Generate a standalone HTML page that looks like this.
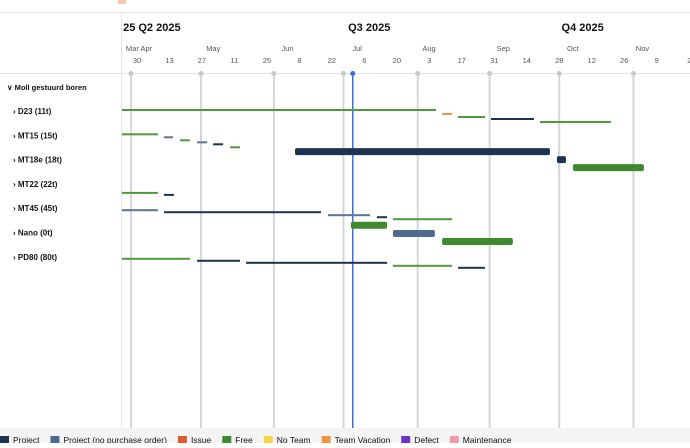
<!DOCTYPE html>
<html><head><meta charset="utf-8"><style>
body{margin:0;width:690px;height:443px;overflow:hidden;background:#fff;font-family:"Liberation Sans",sans-serif}
svg text{font-family:"Liberation Sans",sans-serif}
</style></head><body>
<svg id="c" width="690" height="443">
<rect x="118" y="0" width="8" height="4" fill="#f6c9a8"/>
<line x1="0" y1="12.5" x2="690" y2="12.5" stroke="#e3e3e3"/>
<line x1="0" y1="73.5" x2="690" y2="73.5" stroke="#e3e3e3"/>
<line x1="121.5" y1="12" x2="121.5" y2="428" stroke="#e6e6e6"/>
<g id="grid"></g><g id="hdr"></g><g id="rows"></g><g id="bars"></g>
<rect x="0" y="428" width="690" height="15" fill="#f4f4f4"/>
<g id="legend"></g>
</svg>
<script>
const tickLabels=["30","13","27","11","25","8","22","6","20","3","17","31","14","28","12","26","9","2"];
const monthLabels=["Mar Apr","May","Jun","Jul","Aug","Sep","Oct","Nov"];
const monthDays=[-3,29,61,91,122,154,184,214];
const quarterLabels=["25 Q2 2025","Q3 2025","Q4 2025"];
const quarterDays=[-6,91,183];
const gridDays=[-2.6,27.6,59,89,121,152,182,214];
const todayDay=93;
const rowNames=["D23 (11t)","MT15 (15t)","MT18e (18t)","MT22 (22t)","MT45 (45t)","Nano (0t)","PD80 (80t)"];
const barStart=[-6.5,131.5,138.4,152.6,173.7, -6.5,11.6,18.5,25.9,32.8,40.1, 68.1,181,187.9, -6.5,11.6, -6.5,11.6,82.3,103.4,110.3,92.2, 110.3,131.5, -6.5,25.9,47,110.3,138.4];
const barEnd=[128.9,135.8,150,171.1,204.3, 9,15.5,22.8,30.2,37.1,44.4, 178,184.9,218.5, 9,15.9, 9,79.3,100.4,107.8,135.8,107.8, 128.4,162, 22.8,44.4,107.8,135.8,150];
const barRow=[0,0,0,0,0, 1,1,1,1,1,1, 2,2,2, 3,3, 4,4,4,4,4,4, 5,5, 6,6,6,6,6];
const barLane=[0,4,7,9,12, 0,3,6,8,10,13, -7,1,9, 10,12, 3,5,8,10,12,18, 2,10, 3,5,7,10,12];
const barType=["free","vac","free","proj","free", "free","npo","free","npo","proj","free", "projT","projT","freeT", "free","proj", "npo","proj","npo","proj","free","freeT", "npoT","freeT", "free","proj","proj","free","proj"];
const legendNames=["Project","Project (no purchase order)","Issue","Free","No Team","Team Vacation","Defect","Maintenance"];
const legendColors=["#1c3352","#4f6b8c","#e05a2b","#3f8a2e","#f5d547","#f0953f","#6b35c9","#f09aa8"];

const x=d=>137+d*2.32;
const NS="http://www.w3.org/2000/svg";
function mk(p,t,a){const e=document.createElementNS(NS,t);for(const k in a)e.setAttribute(k,a[k]);document.getElementById(p).appendChild(e);return e;}
gridDays.forEach(d=>{
  const l=mk("grid","line",{x1:x(d),x2:x(d),y1:73,y2:428,stroke:"#d6d6d6","stroke-width":2});
  
  
  const c=mk("grid","circle",{cx:x(d),cy:73.5,r:2.5,fill:"#c8c8c8"});
  
  
});
const tl=mk("grid","line",{x1:x(todayDay),x2:x(todayDay),y1:73,y2:428,stroke:"#3b6fe0","stroke-width":1.5});


const tc=mk("grid","circle",{cx:x(todayDay),cy:73.5,r:2.5,fill:"#3b6fe0"});


quarterLabels.forEach((q,i)=>{
  const t=mk("hdr","text",{x:Math.max(121,x(quarterDays[i])),y:31,"font-size":11,"font-weight":"bold",fill:"#111"});
  t.textContent=q;
  
  
});
monthLabels.forEach((m,i)=>{
  const t=mk("hdr","text",{x:Math.max(137,x(monthDays[i])+9),y:51,"font-size":7.5,fill:"#555","text-anchor":"middle"});
  t.textContent=m;
  
  
});
tickLabels.forEach((s,i)=>{
  const t=mk("hdr","text",{x:x(i*14),y:63,"font-size":7.5,fill:"#555","text-anchor":"middle"});
  t.textContent=s;
  
  
});
const g=mk("rows","text",{x:7,y:90,"font-size":7.5,"font-weight":"bold",fill:"#111"});
g.textContent="\u2228 Moll gestuurd boren";


rowNames.forEach((n,i)=>{
  const t=mk("rows","text",{x:13,y:114+i*24.3,"font-size":8,"font-weight":"bold",fill:"#111"});
  t.textContent="\u203A  "+n;
  
  
});
const col={free:"#4f9a3a",vac:"#f0953f",proj:"#1c3352",npo:"#5a7596",projT:"#1c3352",freeT:"#3f8a2e",npoT:"#4f6b8c"};
barStart.forEach((s,i)=>{
  const thick=barType[i].endsWith("T");
  const y=110+barRow[i]*24.3+barLane[i];
  const h=thick?7:2;
  const r=mk("bars","rect",{x:x(s),y:y-h/2,width:Math.max(1,x(barEnd[i])-x(s)),height:h,rx:thick?2:0,fill:col[barType[i]]});
  
  
});
let lx=0;
legendNames.forEach((n,i)=>{
  const r=mk("legend","rect",{x:lx,y:436,width:9,height:9,fill:legendColors[i]});
  
  
  const t=mk("legend","text",{x:lx+13,y:443,"font-size":8.5,fill:"#111"});
  t.textContent=n;
  
  
  lx+=13+t.getComputedTextLength()+11;
});
</script>
</body></html>
